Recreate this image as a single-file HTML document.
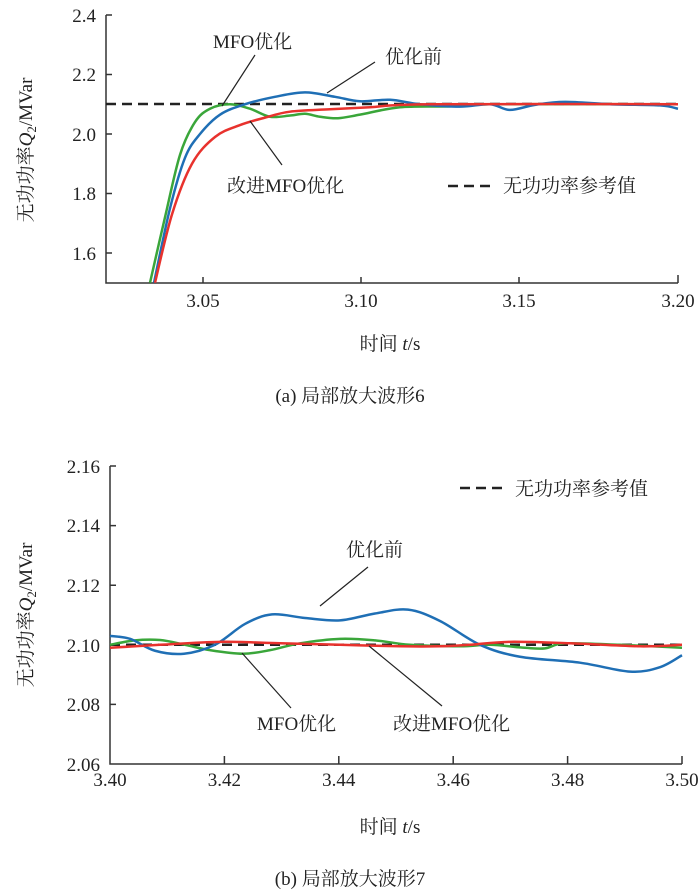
<!DOCTYPE html>
<html><head><meta charset="utf-8"><style>
body{margin:0;background:#fff}
svg{display:block}
text{font-family:"Liberation Serif","Noto Serif CJK SC","Noto Sans CJK SC",serif;fill:#222}
</style></head><body>
<svg id="s" width="700" height="891" viewBox="0 0 700 891" xmlns="http://www.w3.org/2000/svg">
<!-- chart a axes -->
<g stroke="#333" stroke-width="1.5" fill="none">
<path d="M106,15 V283 H678"/>
<path d="M106,15 h6 M106,74.5 h6 M106,134 h6 M106,193.5 h6 M106,253 h6"/>
<path d="M203,283 v-6 M361,283 v-6 M519,283 v-6 M678,283 v-8"/>
</g>
<g font-size="19" text-anchor="end">
<text x="96" y="22">2.4</text><text x="96" y="81">2.2</text><text x="96" y="141">2.0</text><text x="96" y="200">1.8</text><text x="96" y="260">1.6</text>
</g>
<g font-size="19" text-anchor="middle">
<text x="203" y="307">3.05</text><text x="361" y="307">3.10</text><text x="519" y="307">3.15</text><text x="678" y="307">3.20</text>
</g>
<text x="390" y="350" font-size="19" text-anchor="middle">时间 <tspan font-style="italic">t</tspan>/s</text>
<text transform="translate(32,150) rotate(-90)" font-size="19" text-anchor="middle">无功功率<tspan font-style="italic">Q</tspan><tspan font-size="13" dy="4">2</tspan><tspan dy="-4">/MVar</tspan></text>
<text x="350" y="402" font-size="19" text-anchor="middle">(a) 局部放大波形6</text>
<line x1="106" y1="104" x2="678" y2="104" stroke="#222" stroke-width="2.5" stroke-dasharray="10,6"/>
<g id="ca" fill="none" stroke-width="2.5"></g>
<g stroke="#222" stroke-width="1.2">
<line x1="255" y1="55" x2="222" y2="106"/><line x1="375" y1="62" x2="327" y2="93"/><line x1="282" y1="165" x2="250" y2="121"/>
<line x1="448" y1="186" x2="492" y2="186" stroke-width="2.5" stroke-dasharray="10,6"/>
</g>
<g font-size="19">
<text x="213" y="48">MFO优化</text><text x="385" y="63">优化前</text><text x="227" y="192">改进MFO优化</text><text x="503" y="192">无功功率参考值</text>
</g>

<!-- chart b -->
<g stroke="#333" stroke-width="1.5" fill="none">
<path d="M110,466 V764 H682"/>
<path d="M110,466 h6 M110,525.6 h6 M110,585.2 h6 M110,644.8 h6 M110,704.4 h6"/>
<path d="M224.4,764 v-8 M338.8,764 v-8 M453.2,764 v-8 M567.6,764 v-8 M682,764 v-8"/>
</g>
<g font-size="19" text-anchor="end">
<text x="100" y="473">2.16</text><text x="100" y="532">2.14</text><text x="100" y="592">2.12</text><text x="100" y="652">2.10</text><text x="100" y="711">2.08</text><text x="100" y="771">2.06</text>
</g>
<g font-size="19" text-anchor="middle">
<text x="110" y="786">3.40</text><text x="224.4" y="786">3.42</text><text x="338.8" y="786">3.44</text><text x="453.2" y="786">3.46</text><text x="567.6" y="786">3.48</text><text x="682" y="786">3.50</text>
</g>
<text x="390" y="833" font-size="19" text-anchor="middle">时间 <tspan font-style="italic">t</tspan>/s</text>
<text transform="translate(32,615) rotate(-90)" font-size="19" text-anchor="middle">无功功率<tspan font-style="italic">Q</tspan><tspan font-size="13" dy="4">2</tspan><tspan dy="-4">/MVar</tspan></text>
<text x="350" y="885" font-size="19" text-anchor="middle">(b) 局部放大波形7</text>
<line x1="110" y1="644.8" x2="682" y2="644.8" stroke="#222" stroke-width="2.5" stroke-dasharray="10,6"/>
<g id="cb" fill="none" stroke-width="2.5"></g>
<g stroke="#222" stroke-width="1.2">
<line x1="368" y1="567" x2="320" y2="606"/><line x1="242" y1="653" x2="291" y2="708"/><line x1="369" y1="646" x2="442" y2="706"/>
<line x1="460" y1="488" x2="502" y2="488" stroke-width="2.5" stroke-dasharray="10,6"/>
</g>
<g font-size="19">
<text x="346" y="556">优化前</text><text x="257" y="730">MFO优化</text><text x="393" y="730">改进MFO优化</text><text x="515" y="495">无功功率参考值</text>
</g>
</svg>
<script>
function cr(p){var d="M"+p[0][0]+","+p[0][1];for(var i=0;i<p.length-1;i++){var a=p[i-1]||p[i],b=p[i],c=p[i+1],e=p[i+2]||c;
d+=" C"+(b[0]+(c[0]-a[0])/6)+","+(b[1]+(c[1]-a[1])/6)+" "+(c[0]-(e[0]-b[0])/6)+","+(c[1]-(e[1]-b[1])/6)+" "+c[0]+","+c[1];}return d;}
function ya(v){return 134-(v-2.0)*297.5}
function yb(v){return 764-(v-2.06)*2980}
function add(g,pts,col,f){var P=pts.map(function(q){return[q[0],f(q[1])]});var e=document.createElementNS("http://www.w3.org/2000/svg","path");e.setAttribute("d",cr(P));e.setAttribute("stroke",col);document.getElementById(g).appendChild(e);}
add("ca",[[150,1.5],[165,1.72],[180,1.93],[195,2.04],[210,2.085],[230,2.1],[250,2.085],[270,2.058],[290,2.062],[305,2.068],[320,2.058],[338,2.053],[360,2.065],[400,2.09],[450,2.093],[490,2.1],[678,2.1]],"#3aa63a",ya);
add("ca",[[154,1.5],[170,1.75],[185,1.92],[200,2.0],[220,2.065],[245,2.1],[275,2.125],[305,2.14],[335,2.125],[360,2.11],[390,2.115],[420,2.1],[460,2.092],[490,2.1],[510,2.081],[535,2.098],[565,2.108],[610,2.1],[660,2.096],[678,2.085]],"#1f6fb5",ya);
add("ca",[[155,1.5],[172,1.73],[192,1.9],[215,1.99],[240,2.03],[265,2.055],[290,2.075],[330,2.083],[370,2.09],[430,2.1],[678,2.1]],"#e8322d",ya);
add("cb",[[110,2.1],[135,2.1015],[160,2.1016],[185,2.1],[210,2.0982],[243,2.097],[270,2.0982],[300,2.1005],[340,2.102],[375,2.1015],[410,2.1],[460,2.0995],[490,2.1],[525,2.099],[545,2.0988],[565,2.1005],[620,2.1],[682,2.099]],"#3aa63a",yb);
add("cb",[[110,2.103],[130,2.102],[155,2.098],[184,2.097],[215,2.1],[245,2.107],[272,2.1102],[305,2.109],[340,2.1082],[375,2.1105],[408,2.1118],[440,2.108],[480,2.1],[520,2.096],[580,2.094],[630,2.091],[660,2.0925],[682,2.0965]],"#1f6fb5",yb);
add("cb",[[110,2.099],[160,2.1],[220,2.101],[280,2.1005],[340,2.1],[400,2.0995],[440,2.0995],[470,2.1],[510,2.101],[570,2.1005],[640,2.0995],[682,2.1]],"#e8322d",yb);
</script>
</body></html>
